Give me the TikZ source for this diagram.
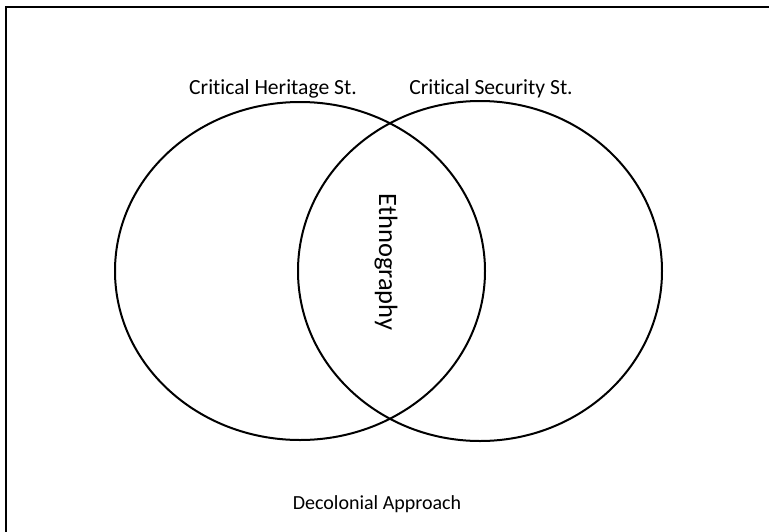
\documentclass[tikz,border=0pt]{standalone}
\usepackage{fontspec}
\setmainfont{Carlito}[Ligatures=NoCommon]
\begin{document}
\begin{tikzpicture}[x=1pt,y=-1pt,
  setring/.style={draw=black,line width=2pt},
  fieldlabel/.style={font=\fontsize{21.6}{24}\selectfont,inner sep=0pt},
  frameline/.style={draw=black,line width=2.8pt}]
  \useasboundingbox (0,0) rectangle (769,531);
  % outer frame, open to the right and bottom
  \begin{scope}
    \clip (0,0) rectangle (769,531);
    \draw[frameline] (6,560) -- (6,7) -- (800,7);
  \end{scope}
  % the two overlapping fields
  \draw[setring] (300,271) ellipse [x radius=185, y radius=169];
  \draw[setring] (480,271) ellipse [x radius=182, y radius=170];
  \node[fieldlabel] (heritage) at (273,89) {Critical Heritage St.};
  \node[fieldlabel] (security) at (491,89) {Critical Security St.};
  \node[fieldlabel,font=\fontsize{26.5}{30}\selectfont,rotate=-90] (ethno) at (386,262) {Ethnography};
  \node[fieldlabel,font=\fontsize{20}{24}\selectfont] (decolonial) at (377,504) {Decolonial Approach};
\end{tikzpicture}
\end{document}
